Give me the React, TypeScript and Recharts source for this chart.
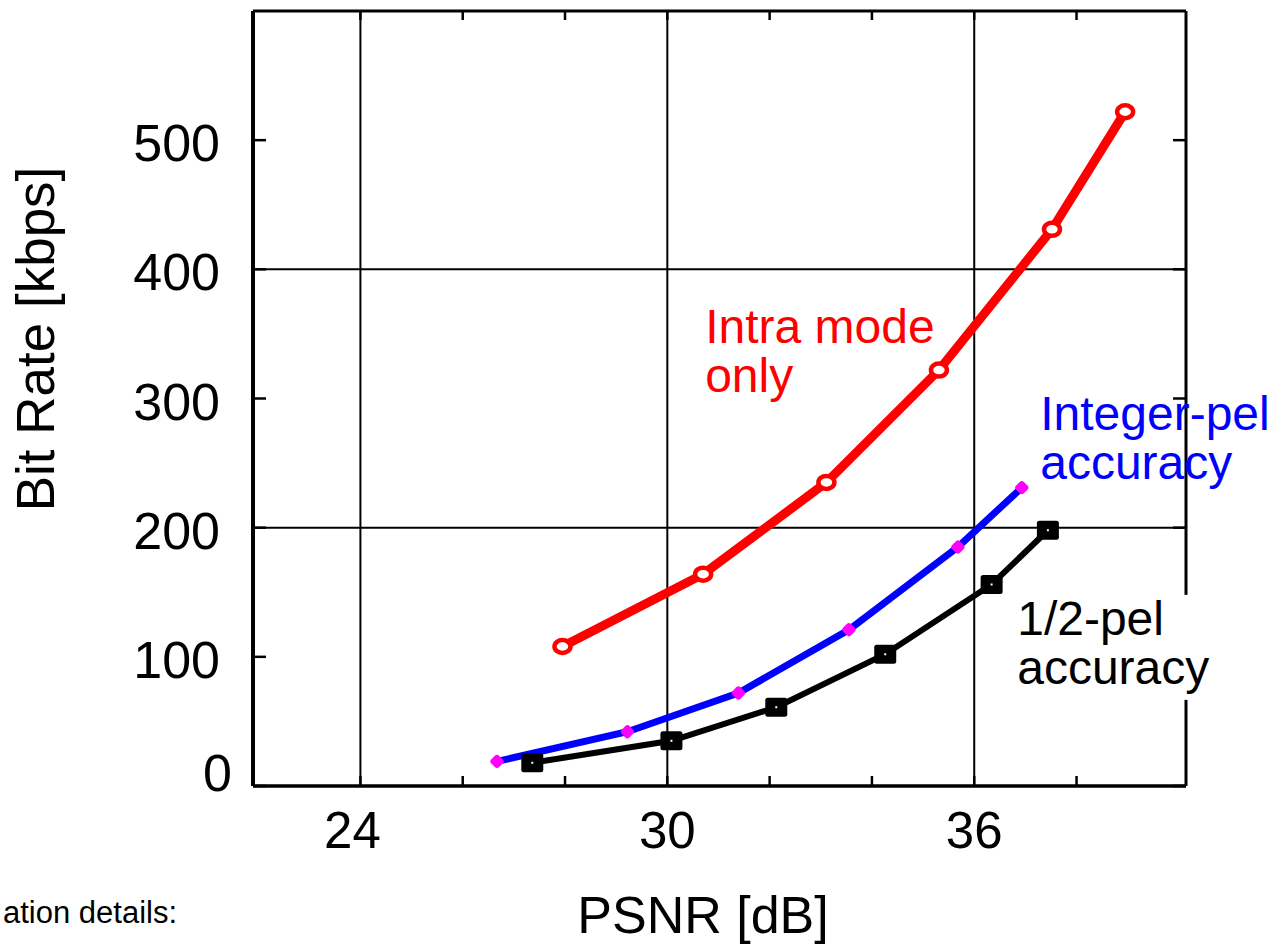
import React from "react";
import {
  LineChart,
  Line,
  XAxis,
  YAxis,
  ReferenceLine,
  ReferenceDot,
} from "recharts";

// PSNR [dB] / bit rate [kbps]
const psnrIntra = [27.95, 30.7, 33.11, 35.31, 37.52, 38.95];
const rateIntra = [108, 164, 235, 322, 431, 522];
const psnrInteger = [26.67, 29.22, 31.39, 33.55, 35.68, 36.93];
const rateInteger = [19, 42, 72, 121, 185, 231];
const psnrHalf = [27.36, 30.08, 32.13, 34.26, 36.34, 37.44];
const rateHalf = [18, 35, 61, 102, 156, 198];

const xTicks = [24, 26, 28, 30, 32, 34, 36, 38];
const xLabelled = [24, 30, 36];
const yTicks = [0, 100, 200, 300, 400, 500];
const xGrid = [24, 30, 36];
const yGrid = [200, 400];

// curve labels: [psnr, rate] of the first line's start
const notes = [
  { x: 30.74, y: 343, lines: ["Intra mode", "only"], color: "#ff0000" },
  { x: 37.29, y: 276, lines: ["Integer-pel", "accuracy"], color: "#0000ff" },
  { x: 36.84, y: 117, lines: ["1/2-pel", "accuracy"], color: "#000000", box: true },
];

const FONT = "'Liberation Sans', Arial, Helvetica, sans-serif";

const toPoints = (xs: number[], ys: number[]) => xs.map((x, i) => ({ x, y: ys[i] }));

const intra = toPoints(psnrIntra, rateIntra);
const integer = toPoints(psnrInteger, rateInteger);
const half = toPoints(psnrHalf, rateHalf);

function XTick(props: any) {
  const { x, y, payload } = props;
  if (!xLabelled.includes(payload.value)) return <g />;
  const shift = payload.value === 24 ? -8 : 0;
  return (
    <text x={x + shift} y={y + 72} textAnchor="middle" fontSize={51} fontFamily={FONT} fill="#000">
      {payload.value}
    </text>
  );
}

function YTick(props: any) {
  const { x, y, payload } = props;
  const zero = payload.value === 0;
  return (
    <text
      x={zero ? x - 34 : x - 46}
      y={y + (zero ? 5 : 21)}
      textAnchor="end"
      fontSize={52}
      fontFamily={FONT}
      fill="#000"
    >
      {payload.value}
    </text>
  );
}

const NoLabel = () => <g />;

function CircleDot(props: any) {
  const { cx, cy, index } = props;
  return <ellipse key={index} cx={cx} cy={cy} rx={8} ry={6.5} fill="#fff" stroke="#ff0000" strokeWidth={4.5} />;
}

function PinkDot(props: any) {
  const { cx, cy, index } = props;
  return (
    <rect
      key={index}
      x={cx - 5.5}
      y={cy - 5.5}
      width={11}
      height={11}
      rx={3}
      fill="#ff00ff"
      transform={`rotate(45 ${cx} ${cy})`}
    />
  );
}

function SquareDot(props: any) {
  const { cx, cy, index } = props;
  return (
    <g key={index}>
      <rect x={cx - 11} y={cy - 9.5} width={22} height={19} rx={2.5} fill="#000" />
      <rect x={cx - 1} y={cy - 1} width={2} height={2} fill="#fff" />
    </g>
  );
}

function noteShape(note: (typeof notes)[number]) {
  return (props: any) => {
    const { cx, cy } = props;
    return (
      <g>
        {note.box && <rect x={cx - 8} y={cy - 40} width={210} height={105} fill="#fff" />}
        {note.lines.map((t, i) => (
          <text key={t} x={cx} y={cy + i * 49} fontSize={48} fontFamily={FONT} fill={note.color}>
            {t}
          </text>
        ))}
      </g>
    );
  };
}

export default function App() {
  return (
    <div style={{ position: "absolute", left: 0, top: 0, width: 1278, height: 946, background: "#fff" }}>
      <LineChart width={1278} height={946} margin={{ top: 10, right: 91, bottom: 0, left: 0 }}>
        <XAxis
          xAxisId="b"
          type="number"
          dataKey="x"
          orientation="bottom"
          domain={[21.9, 40.14]}
          allowDataOverflow
          ticks={xTicks}
          interval={0}
          height={160}
          tickSize={-10}
          tickMargin={0}
          tick={<XTick />}
          axisLine={{ stroke: "#000", strokeWidth: 3.5 }}
          tickLine={{ stroke: "#000", strokeWidth: 2.5 }}
          label={() => (
            <text x={703} y={933} textAnchor="middle" fontSize={52} fontFamily={FONT} fill="#000">
              PSNR [dB]
            </text>
          )}
        />
        <XAxis
          xAxisId="t"
          type="number"
          dataKey="x"
          orientation="top"
          domain={[21.9, 40.14]}
          allowDataOverflow
          ticks={xTicks}
          interval={0}
          height={1}
          tickSize={-9}
          tick={<NoLabel />}
          axisLine={{ stroke: "#000", strokeWidth: 3 }}
          tickLine={{ stroke: "#000", strokeWidth: 2.5 }}
        />
        <YAxis
          yAxisId="l"
          type="number"
          orientation="left"
          domain={[0, 600]}
          allowDataOverflow
          ticks={yTicks}
          interval={0}
          width={253}
          tickSize={-13}
          tickMargin={0}
          tick={<YTick />}
          axisLine={{ stroke: "#000", strokeWidth: 4 }}
          tickLine={{ stroke: "#000", strokeWidth: 2.5 }}
          label={() => (
            <text
              x={54}
              y={339}
              transform="rotate(-90, 54, 339)"
              textAnchor="middle"
              fontSize={53}
              fontFamily={FONT}
              fill="#000"
            >
              Bit Rate [kbps]
            </text>
          )}
        />
        <YAxis
          yAxisId="r"
          type="number"
          orientation="right"
          domain={[0, 600]}
          allowDataOverflow
          ticks={yTicks}
          interval={0}
          width={1}
          tickSize={-13}
          tick={<NoLabel />}
          axisLine={{ stroke: "#000", strokeWidth: 3 }}
          tickLine={{ stroke: "#000", strokeWidth: 2.5 }}
        />
        {xGrid.map((v) => (
          <ReferenceLine key={"gx" + v} xAxisId="b" yAxisId="l" x={v} stroke="#000" strokeWidth={2} />
        ))}
        {yGrid.map((v) => (
          <ReferenceLine key={"gy" + v} xAxisId="b" yAxisId="l" y={v} stroke="#000" strokeWidth={2} />
        ))}
        <Line
          xAxisId="b"
          yAxisId="l"
          data={intra}
          dataKey="y"
          type="linear"
          stroke="#ff0000"
          strokeWidth={9}
          dot={<CircleDot />}
          isAnimationActive={false}
        />
        <Line
          xAxisId="b"
          yAxisId="l"
          data={integer}
          dataKey="y"
          type="linear"
          stroke="#0000ff"
          strokeWidth={7}
          dot={<PinkDot />}
          isAnimationActive={false}
        />
        <Line
          xAxisId="b"
          yAxisId="l"
          data={half}
          dataKey="y"
          type="linear"
          stroke="#000"
          strokeWidth={6}
          dot={<SquareDot />}
          isAnimationActive={false}
        />
        {notes.map((n) => (
          <ReferenceDot
            key={n.lines[0]}
            xAxisId="b"
            yAxisId="l"
            x={n.x}
            y={n.y}
            r={0}
            ifOverflow="visible"
            shape={noteShape(n)}
          />
        ))}
      </LineChart>
      <svg width={230} height={40} style={{ position: "absolute", left: 0, top: 896 }}>
        <text x={3} y={27} fontSize={31} fontFamily={FONT} fill="#000">
          ation details:
        </text>
      </svg>
    </div>
  );
}
